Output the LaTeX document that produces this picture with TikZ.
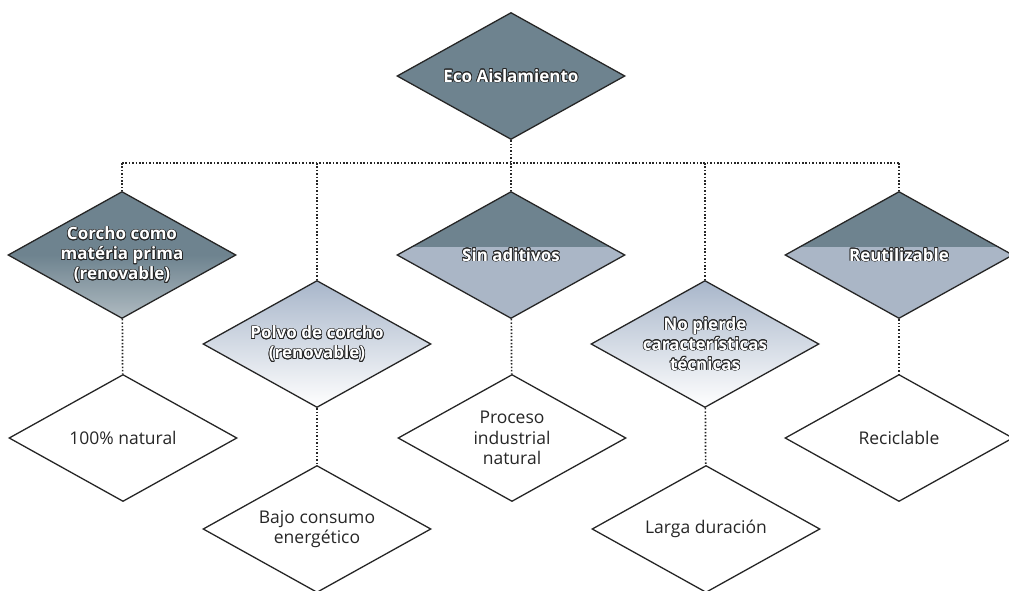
\documentclass[tikz,border=0pt]{standalone}
\usepackage{fontspec}
\setmainfont{Open Sans}
\usepackage{tikz}
\usetikzlibrary{shapes.geometric}
\usepackage{contour}
\contourlength{0.7pt}
\definecolor{slate}{RGB}{110,131,143}
\definecolor{slatelight}{RGB}{170,182,198}
\definecolor{mist}{RGB}{168,182,202}
\definecolor{ink}{RGB}{38,38,38}
\newcommand{\wl}[1]{\contour{ink}{#1}}

\begin{document}
\begin{tikzpicture} [x=1pt, y=-1pt,
    rombo/.style={diamond, draw=ink, line width=1.3pt, aspect=1.8,
      inner xsep=-15pt, inner ysep=-8pt,
      minimum width=228pt, minimum height=127pt, align=center,
      font=\fontsize{17.5}{20.5}\selectfont, text=ink},
    oscuro/.style={rombo, fill=slate, text=white,
      font=\bfseries\fontsize{17}{20}\selectfont},
    mitad/.style={oscuro, fill=slatelight,
      path picture={\fill[slate] (path picture bounding box.north west)
        rectangle ([yshift=8pt]path picture bounding box.east);}},
    claro/.style={oscuro, top color=mist, bottom color=white},
    link/.style={ink, line width=1.7pt, dash pattern=on 1.5pt off 1.9pt}
  ]
    \useasboundingbox (0,0) rectangle (1009,590);

    \node[oscuro] (eco) at (511,76) {\wl{Eco Aislamiento}};

    \node[oscuro, bottom color=slate!55!white, top color=slate, middle color=slate]
      (corcho) at (122,255) {\wl{Corcho como}\\ \wl{matéria prima}\\ \wl{(renovable)}};
    \node[mitad] (aditivos) at (511,255) {\wl{Sin aditivos}};
    \node[mitad] (reutil) at (899,255) {\wl{Reutilizable}};
    \node[claro] (polvo) at (317,344) {\wl{Polvo de corcho}\\ \wl{(renovable)}};
    \node[claro] (pierde) at (705,344) {\wl{No pierde}\\ \wl{características}\\ \wl{técnicas}};

    \node[rombo] (natural) at (123,438) {100\% natural};
    \node[rombo] (proceso) at (512,438) {Proceso\\ industrial\\ natural};
    \node[rombo] (recicla) at (899,438) {Reciclable};
    \node[rombo] (consumo) at (317,529) {Bajo consumo\\ energético};
    \node[rombo] (larga) at (706,529) {Larga duración};

    \coordinate (h1) at (122,163);
    \coordinate (h2) at (317,163);
    \coordinate (h3) at (511,163);
    \coordinate (h4) at (705,163);
    \coordinate (h5) at (899,163);

      \path[link]
      (eco) edge (h3)
      (h1) edge (h5)
      ;
      \path[link]
      (h1) edge (corcho)
      (h2) edge (polvo)
      (h3) edge (aditivos)
      (h4) edge (pierde)
      (h5) edge (reutil)
      ;
      \path[link]
      (corcho) edge (natural)
      (polvo) edge (consumo)
      (aditivos) edge (proceso)
      (pierde) edge (larga)
      (reutil) edge (recicla)
      ;
    \end{tikzpicture}
\end{document}
